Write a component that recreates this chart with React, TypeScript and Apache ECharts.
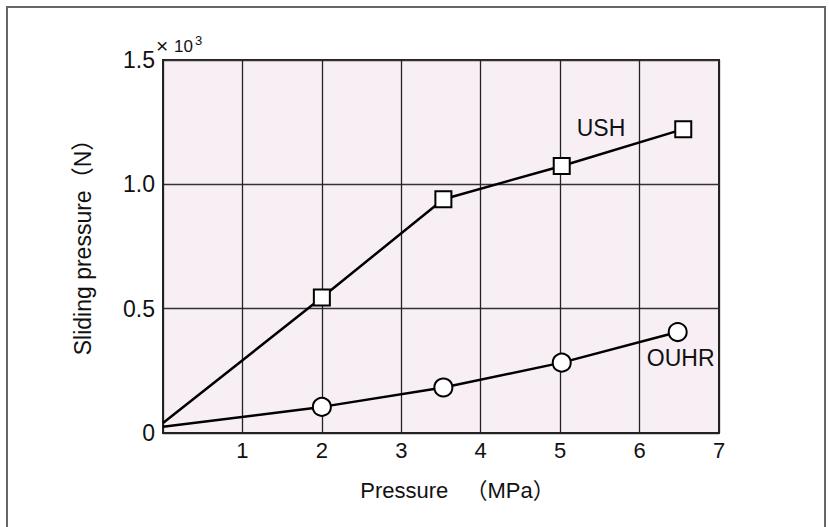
import React, { useEffect, useRef } from "react";
import * as echarts from "echarts";

const xTicks = [0, 1, 2, 3, 4, 5, 6, 7];
const yTickLabels = ["0", "0.5", "1.0", "1.5"];
const ushX = [0, 2, 3.53, 5.02, 6.55];
const ushY = [0.04, 0.545, 0.94, 1.074, 1.222];
const ouhrX = [0, 2, 3.53, 5.02, 6.48];
const ouhrY = [0.025, 0.105, 0.183, 0.283, 0.406];
const seriesNames = ["USH", "OUHR"];

const FONT = "'Liberation Sans', Arial, 'Noto Sans CJK JP', sans-serif";

export default function App() {
  const ref = useRef<HTMLDivElement>(null);
  useEffect(() => {
    if (!ref.current) return;
    const chart = echarts.init(ref.current, null, { renderer: "svg" });
    const mk = (xs: number[], ys: number[], label: any) =>
      xs.map((x, i) => {
        const item: any = { value: [x, ys[i]] };
        if (i === 0) item.symbol = "none";
        if (i === xs.length - 1) item.label = label;
        return item;
      });
    chart.setOption({
      animation: false,
      backgroundColor: "#ffffff",
      textStyle: { fontFamily: FONT },
      grid: { left: 163, top: 60, right: 110, bottom: 94, show: true, backgroundColor: "#f7eff4", borderColor: "#222", borderWidth: 2 },
      xAxis: {
        type: "value",
        min: 0,
        max: 7,
        interval: 1,
        name: "Pressure\u2002 （MPa）",
        nameLocation: "middle",
        nameGap: 46,
        nameTextStyle: { fontSize: 22, color: "#111", fontFamily: FONT, padding: [0, 0, 0, 33] },
        axisLine: { show: true, onZero: false, lineStyle: { color: "#222", width: 2 } },
        axisTick: { show: false },
        axisLabel: {
          fontSize: 22,
          color: "#111",
          margin: 6,
          fontFamily: FONT,
          formatter: (v: number) => (v === 0 ? "" : String(xTicks[v])),
        },
        splitLine: { show: true, lineStyle: { color: "#222", width: 1.3 } },
      },
      yAxis: {
        type: "value",
        min: 0,
        max: 1.5,
        interval: 0.5,
        name: "Sliding pressure（N）",
        nameLocation: "middle",
        nameGap: 69,
        nameTextStyle: { fontSize: 23, color: "#111", fontFamily: FONT, padding: [0, 0, 0, 10] },
        axisLine: { show: true, lineStyle: { color: "#222", width: 2 } },
        axisTick: { show: false },
        axisLabel: {
          fontSize: 23,
          color: "#111",
          margin: 8,
          fontFamily: FONT,
          formatter: (v: number) => yTickLabels[Math.round(v * 2)],
        },
        splitLine: { show: true, lineStyle: { color: "#333", width: 1.3 } },
      },
      graphic: [
        {
          type: "rect",
          shape: { x: 7, y: 7, width: 818, height: 560 },
          style: { fill: "none", stroke: "#666", lineWidth: 2 },
          silent: true,
        },
        {
          type: "text",
          x: 156,
          y: 35,
          style: { text: "×", fill: "#111", font: "21px " + FONT },
        },
        {
          type: "text",
          x: 174,
          y: 38,
          style: { text: "10", fill: "#111", font: "17px " + FONT },
        },
        {
          type: "text",
          x: 195,
          y: 34,
          style: { text: "3", fill: "#111", font: "13px " + FONT },
        },
      ],
      series: [
        {
          name: seriesNames[0],
          type: "line",
          symbol: "rect",
          symbolSize: 16,
          lineStyle: { color: "#000", width: 2.5 },
          itemStyle: { color: "#fff", borderColor: "#000", borderWidth: 2 },
          data: mk(ushX, ushY, {
            show: true,
            formatter: seriesNames[0],
            position: "left",
            distance: 49,
            offset: [0, -1],
            fontSize: 23,
            color: "#111",
            fontFamily: FONT,
          }),
          z: 3,
        },
        {
          name: seriesNames[1],
          type: "line",
          symbol: "circle",
          symbolSize: 18,
          lineStyle: { color: "#000", width: 2.5 },
          itemStyle: { color: "#fff", borderColor: "#000", borderWidth: 2 },
          data: mk(ouhrX, ouhrY, {
            show: true,
            formatter: seriesNames[1],
            position: "bottom",
            distance: 4,
            offset: [3, 0],
            fontSize: 23,
            color: "#111",
            fontFamily: FONT,
          }),
          z: 3,
        },
      ],
    });
    return () => chart.dispose();
  }, []);
  return (
    <div
      ref={ref}
      style={{ position: "fixed", left: 0, top: 0, width: 829, height: 527 }}
    />
  );
}
